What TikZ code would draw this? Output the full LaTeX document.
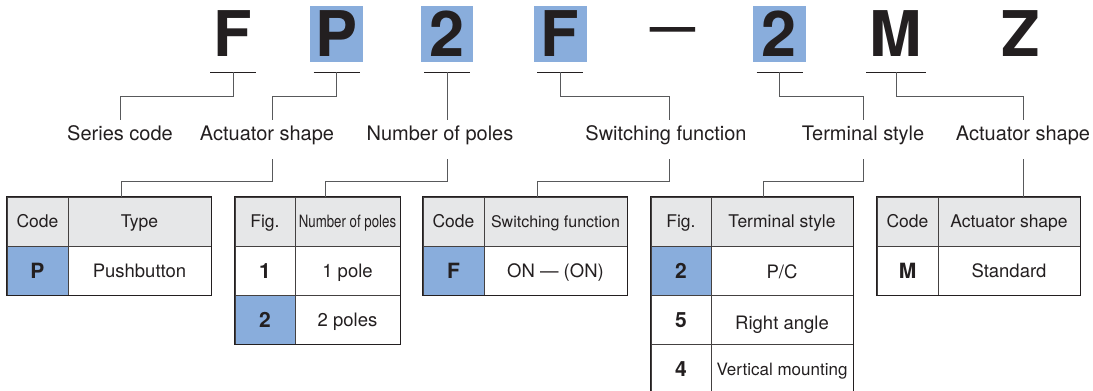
\documentclass[tikz,border=0pt]{standalone}
\usepackage{fontspec}
\setmainfont{TeX Gyre Heros}
\usepackage{graphicx}
\definecolor{ink}{HTML}{231F20}
\definecolor{keyblue}{HTML}{89ADDC}
\definecolor{headgray}{HTML}{E6E7E8}
\definecolor{leadgray}{HTML}{58595B}
\newcommand{\fsz}[1]{\fontsize{#1}{#1}\selectfont}
\begin{document}
\begin{tikzpicture}[x=1pt,y=-1pt,
  codechar/.style={anchor=base,text=ink,font={\fsz{63}\bfseries},minimum width=46pt,
    text height=46pt,text depth=0pt,inner sep=0pt,outer xsep=0pt,outer ysep=16pt},
  uline/.style={ink,line width=1pt},
  lead/.style={leadgray,line width=1pt},
  lbl/.style={anchor=base,text=ink,font={\fsz{20}},text height=14pt,text depth=13pt,
    inner xsep=0pt,inner ysep=6pt},
  cell/.style={draw=ink!85,line width=0.9pt,minimum height=49pt,inner sep=0pt,
    text height=13.3pt,text depth=0pt,text=ink,font={\fsz{18.5}}},
  head/.style={cell,fill=headgray,text height=12.6pt,font={\fsz{17.5}}},
  key/.style={cell,text height=15.2pt,font={\fsz{21}\bfseries}},
  frame/.style={ink,line width=1.8pt}]
\useasboundingbox (0,0) rectangle (1093,391);
\fill[keyblue] (310,6) rectangle (363,62);
\fill[keyblue] (421,6) rectangle (473,62);
\fill[keyblue] (534,6) rectangle (587,62);
\fill[keyblue] (753,6) rectangle (806,62);
\node[codechar] (c1) at (233,56) {F};
\node[codechar] (c2) at (336.5,56) {P};
\node[codechar] (c3) at (447,56) {2};
\node[codechar] (c4) at (560,56) {F};
\node[anchor=base,text=ink,font={\fsz{45}\bfseries},inner sep=0pt] (dash) at (672.5,41.6) {—};
\node[codechar] (c6) at (779.5,56) {2};
\node[codechar,minimum width=60pt] (c7) at (896,56) {M};
\node[codechar] (c8) at (1021,56) {Z};
\draw[uline] (c1.south west) -- (c1.south east);
\draw[uline] (c2.south west) -- (c2.south east);
\draw[uline] (c3.south west) -- (c3.south east);
\draw[uline] (c4.south west) -- (c4.south east);
\draw[uline] (c6.south west) -- (c6.south east);
\draw[uline] (c7.south west) -- (c7.south east);
\node[lbl] (series) at (120,140) {Series code};
\node[lbl] (act) at (267,140) {Actuator shape};
\node[lbl] (poles) at (440,140) {Number of poles};
\node[lbl] (sw) at (666,140) {Switching function};
\node[lbl] (term) at (863,140) {Terminal style};
\node[lbl] (act2) at (1023,140) {Actuator shape};
\draw[lead] (c1.south) -- ++(0,24) -| (series.north);
\draw[lead] (c2.south) -- ++(0,24) -| ([xshift=5pt]act.north);
\draw[lead] (c3.south) -- ([xshift=7pt]poles.north);
\draw[lead] (c4.south) -- ++(0,24) -| ([xshift=3pt]sw.north);
\draw[lead] (c6.south) -- ++(0,24) -| (term.north);
\draw[lead] (c7.south) -- ++(0,24) -| (act2.north);
\node[head,minimum width=61pt] (t1h1) at (37.5,221.5) {Code};
\node[head,minimum width=143pt] (t1h2) at (139.5,221.5) {Type};
\node[key,fill=keyblue,minimum width=61pt] (t1k1) at (37.5,270.5) {P};
\node[cell,minimum width=143pt] (t1v1) at (139.5,270.5) {Pushbutton};
\draw[frame] (t1h1.north west) rectangle (t1v1.south east);
\node[head,minimum width=60pt] (t2h1) at (265,221.5) {Fig.};
\node[head,minimum width=105pt] (t2h2) at (347.5,221.5) {\scalebox{0.78}[1]{\fsz{17}Number of poles}};
\node[key,minimum width=60pt] (t2k1) at (265,270.5) {1};
\node[cell,minimum width=105pt] (t2v1) at (347.5,270.5) {1 pole};
\node[key,fill=keyblue,minimum width=60pt] (t2k2) at (265,319.5) {2};
\node[cell,minimum width=105pt] (t2v2) at (347.5,319.5) {2 poles};
\draw[frame] (t2h1.north west) rectangle (t2v2.south east);
\node[head,minimum width=61pt] (t3h1) at (453.5,221.5) {Code};
\node[head,minimum width=143pt] (t3h2) at (555.5,221.5) {\fsz{16}Switching function};
\node[key,fill=keyblue,minimum width=61pt] (t3k1) at (453.5,270.5) {F};
\node[cell,minimum width=143pt] (t3v1) at (555.5,270.5) {ON — (ON)};
\draw[frame] (t3h1.north west) rectangle (t3v1.south east);
\node[head,minimum width=60pt] (t4h1) at (681,221.5) {Fig.};
\node[head,minimum width=142pt] (t4h2) at (782,221.5) {Terminal style};
\node[key,fill=keyblue,minimum width=60pt] (t4k1) at (681,270.5) {2};
\node[cell,minimum width=142pt,text height=16.3pt] (t4v1) at (782,270.5) {P/C};
\node[key,minimum width=60pt] (t4k2) at (681,319.5) {5};
\node[cell,minimum width=142pt,text height=20.3pt] (t4v2) at (782,319.5) {Right angle};
\node[key,minimum width=60pt] (t4k3) at (681,368.5) {4};
\node[cell,minimum width=142pt,font={\fsz{17}}] (t4v3) at (782,368.5) {Vertical mounting};
\draw[frame] (t4h1.north west) rectangle (t4v3.south east);
\node[head,minimum width=61pt] (t5h1) at (907.5,221.5) {Code};
\node[head,minimum width=142pt] (t5h2) at (1009,221.5) {Actuator shape};
\node[key,minimum width=61pt] (t5k1) at (907.5,270.5) {M};
\node[cell,minimum width=142pt] (t5v1) at (1009,270.5) {Standard};
\draw[frame] (t5h1.north west) rectangle (t5v1.south east);
\draw[lead] ([xshift=5pt]act.south) -- ++(0,22) -| ([xshift=-18.5pt]t1h2.north);
\draw[lead] ([xshift=7pt]poles.south) -- ++(0,22) -| ([xshift=-22.5pt]t2h2.north);
\draw[lead] ([xshift=3pt]sw.south) -- ++(0,22) -| ([xshift=-18.5pt]t3h2.north);
\draw[lead] (term.south) -- ++(0,22) -| ([xshift=-19pt]t4h2.north);
\draw[lead] (act2.south) -- (act2.south |- t5h2.north);
\end{tikzpicture}
\end{document}
